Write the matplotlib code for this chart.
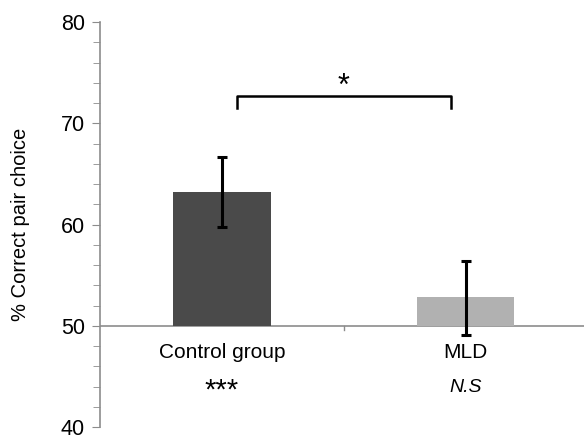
import matplotlib.pyplot as plt
from matplotlib.ticker import MultipleLocator

plt.rcParams['font.family'] = ['Liberation Sans', 'DejaVu Sans']

groups = ['Control group', 'MLD']
means = [63.2, 52.8]
err_low = [59.8, 49.1]
err_high = [66.7, 56.4]
signif = ['***', 'N.S']
colors = ['#4a4a4a', '#b1b1b1']

fig = plt.figure(figsize=(5.84, 4.40), dpi=100)
ax = fig.add_axes([0.1712, 0.0295, 0.835, 0.9205])

x = list(range(len(groups)))
base = 50
heights = [m - base for m in means]
ax.bar(x, heights, bottom=base, width=0.4, color=colors, zorder=2)

yerr = [[m - lo for m, lo in zip(means, err_low)],
        [hi - m for m, hi in zip(means, err_high)]]
ax.errorbar(x, means, yerr=yerr, fmt='none', ecolor='black',
            elinewidth=2.2, capsize=3.5, capthick=2.2, zorder=3)

ax.set_xlim(-0.5, 1.5)
ax.set_ylim(40, 80)

# x axis line drawn at 50
ax.axhline(base, color='#8c8c8c', lw=1.2, zorder=1)
ax.plot([0.5, 0.5], [base, base - 0.45], color='#8c8c8c', lw=1, clip_on=False)

for s in ['top', 'right', 'bottom']:
    ax.spines[s].set_visible(False)
ax.spines['left'].set_color('#8c8c8c')
ax.spines['left'].set_linewidth(1.2)

ax.set_xticks([])
ax.yaxis.set_major_locator(MultipleLocator(10))
ax.yaxis.set_minor_locator(MultipleLocator(2))
ax.tick_params(axis='y', which='major', length=6, color='#8c8c8c', labelsize=15.5, pad=5)
ax.tick_params(axis='y', which='minor', length=5, color='#8c8c8c')
ax.set_ylabel('% Correct pair choice', fontsize=14.5, labelpad=22)

for xi, g, s in zip(x, groups, signif):
    ax.text(xi, 47.4, g, ha='center', va='center', fontsize=15)
    if s == 'N.S':
        ax.text(xi, 43.9, s, ha='center', va='center', fontsize=14, style='italic')
    else:
        ax.text(xi, 43.6, s, ha='center', va='center', fontsize=21)

# significance bracket between groups
ax.plot([0.06, 0.06, 0.94, 0.94], [71.5, 72.7, 72.7, 71.5], color='black', lw=1.8)
ax.text(0.5, 73.6, '*', ha='center', va='center', fontsize=22)

fig.savefig('out.png', dpi=100)
